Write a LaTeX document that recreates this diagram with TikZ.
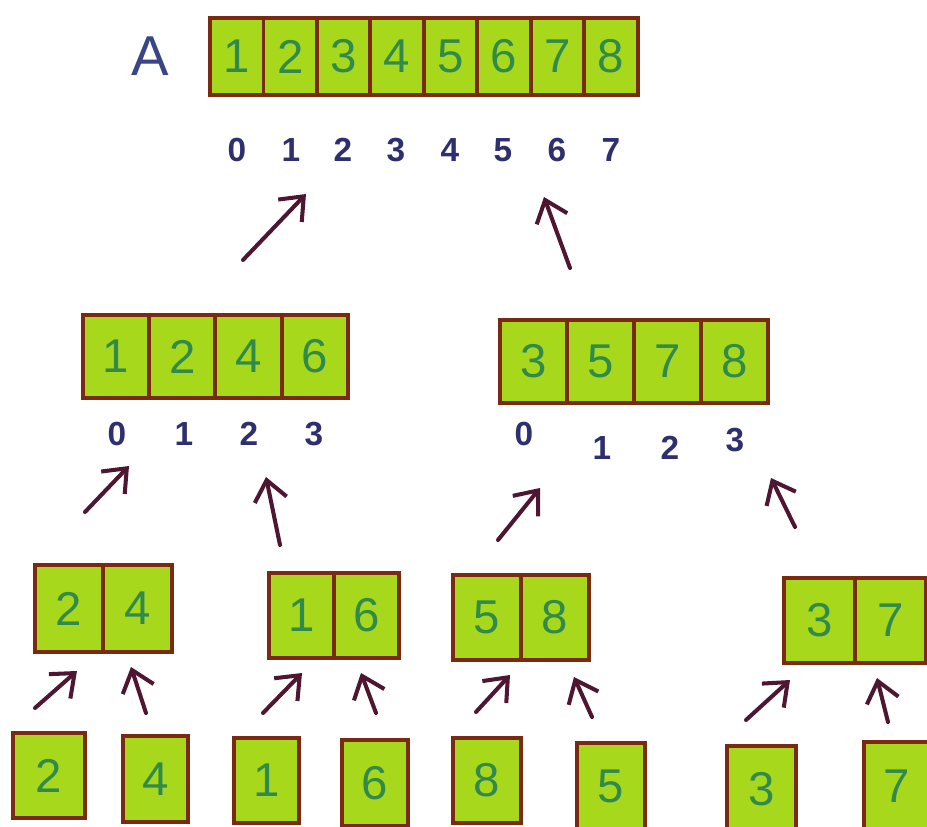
\documentclass[tikz,border=0pt]{standalone}
\usepackage{fontspec}
\setmainfont{Liberation Sans}
\usetikzlibrary{arrows.meta, positioning}
\definecolor{cellfill}{HTML}{A8D81C}
\definecolor{cellline}{HTML}{7B2A12}
\definecolor{digit}{HTML}{2F8A4C}
\definecolor{idxblue}{HTML}{2E2F6E}
\definecolor{labelblue}{HTML}{3A4585}
\definecolor{arrowred}{HTML}{4E1630}

\tikzset{
  cell/.style={draw=cellline, fill=cellfill, line width=2.2pt, text=digit,
    font=\fontsize{27}{30}\selectfont, inner sep=0pt, outer sep=0pt},
  idx/.style={text=idxblue, font=\fontsize{19}{22}\selectfont\bfseries},
  up/.style={-{Straight Barb[length=4mm, width=6.5mm]}, line width=2.3pt, arrowred, line cap=round}
}

\begin{document}
\begin{tikzpicture}[x=0.02cm, y=-0.02cm]
\useasboundingbox (0,0) rectangle (927,827);

% Array A
\node[text=labelblue, font=\fontsize{32}{36}\selectfont] (lblA) at (150,56) {A};
\node[cell, minimum width=1.07cm, minimum height=1.54cm] (a1) at (236.7,56.5) {1};
\node[cell, minimum width=1.07cm, minimum height=1.54cm, right=0pt of a1] (a2) {2};
\node[cell, minimum width=1.07cm, minimum height=1.54cm, right=0pt of a2] (a3) {3};
\node[cell, minimum width=1.07cm, minimum height=1.54cm, right=0pt of a3] (a4) {4};
\node[cell, minimum width=1.07cm, minimum height=1.54cm, right=0pt of a4] (a5) {5};
\node[cell, minimum width=1.07cm, minimum height=1.54cm, right=0pt of a5] (a6) {6};
\node[cell, minimum width=1.07cm, minimum height=1.54cm, right=0pt of a6] (a7) {7};
\node[cell, minimum width=1.07cm, minimum height=1.54cm, right=0pt of a7] (a8) {8};
\node[idx] (ia0) at (237,150) {0};
\node[idx] (ia1) at (291,150) {1};
\node[idx] (ia2) at (343,150) {2};
\node[idx] (ia3) at (396,150) {3};
\node[idx] (ia4) at (450,150) {4};
\node[idx] (ia5) at (503,150) {5};
\node[idx] (ia6) at (557,150) {6};
\node[idx] (ia7) at (611,150) {7};

% Level 2
\node[cell, minimum width=1.325cm, minimum height=1.66cm] (b1) at (116,356.5) {1};
\node[cell, minimum width=1.325cm, minimum height=1.66cm, right=0pt of b1] (b2) {2};
\node[cell, minimum width=1.325cm, minimum height=1.66cm, right=0pt of b2] (b3) {4};
\node[cell, minimum width=1.325cm, minimum height=1.66cm, right=0pt of b3] (b4) {6};
\node[idx] (ib0) at (117,434) {0};
\node[idx] (ib1) at (184,434) {1};
\node[idx] (ib2) at (249,434) {2};
\node[idx] (ib3) at (314,434) {3};

\node[cell, minimum width=1.34cm, minimum height=1.66cm] (c1) at (533.5,361.5) {3};
\node[cell, minimum width=1.34cm, minimum height=1.66cm, right=0pt of c1] (c2) {5};
\node[cell, minimum width=1.34cm, minimum height=1.66cm, right=0pt of c2] (c3) {7};
\node[cell, minimum width=1.34cm, minimum height=1.66cm, right=0pt of c3] (c4) {8};
\node[idx] (ic0) at (524,434) {0};
\node[idx] (ic1) at (602,448) {1};
\node[idx] (ic2) at (670,448) {2};
\node[idx] (ic3) at (735,440) {3};

% Level 3
\node[cell, minimum width=1.37cm, minimum height=1.74cm] (d1) at (69,608.5) {2};
\node[cell, minimum width=1.37cm, minimum height=1.74cm, right=0pt of d1] (d2) {4};
\node[cell, minimum width=1.3cm, minimum height=1.7cm] (e1) at (301.5,615.5) {1};
\node[cell, minimum width=1.3cm, minimum height=1.7cm, right=0pt of e1] (e2) {6};
\node[cell, minimum width=1.36cm, minimum height=1.7cm] (f1) at (487,617.5) {5};
\node[cell, minimum width=1.36cm, minimum height=1.7cm, right=0pt of f1] (f2) {8};
\node[cell, minimum width=1.42cm, minimum height=1.7cm] (g1) at (819.5,620.5) {3};
\node[cell, minimum width=1.42cm, minimum height=1.7cm, right=0pt of g1] (g2) {7};

% Level 4
\node[cell, minimum width=1.44cm, minimum height=1.7cm] (s1) at (49,775.5) {2};
\node[cell, minimum width=1.3cm, minimum height=1.72cm] (s2) at (155.5,779) {4};
\node[cell, minimum width=1.3cm, minimum height=1.7cm] (s3) at (266.5,780.5) {1};
\node[cell, minimum width=1.32cm, minimum height=1.72cm] (s4) at (375,783) {6};
\node[cell, minimum width=1.36cm, minimum height=1.7cm] (s5) at (487,780.5) {8};
\node[cell, minimum width=1.36cm, minimum height=1.74cm] (s6) at (611,786.5) {5};
\node[cell, minimum width=1.38cm, minimum height=1.72cm] (s7) at (761.5,789) {3};
\node[cell, minimum width=1.32cm, minimum height=1.76cm] (s8) at (897,786) {7};

% Arrows
\coordinate (t1) at (243,260);  \coordinate (h1) at (306,194);
\coordinate (t2) at (570,268);  \coordinate (h2) at (544,197);
\coordinate (t3) at (85,512);   \coordinate (h3) at (129,466);
\coordinate (t4) at (280,545);  \coordinate (h4) at (266,477);
\coordinate (t5) at (498,540);  \coordinate (h5) at (540,488);
\coordinate (t6) at (795,527);  \coordinate (h6) at (771,478);
\coordinate (t7) at (35,708);   \coordinate (h7) at (77,671);
\coordinate (t8) at (146,713);  \coordinate (h8) at (131,667);
\coordinate (t9) at (263,713);  \coordinate (h9) at (302,673);
\coordinate (t10) at (376,713); \coordinate (h10) at (361,673);
\coordinate (t11) at (476,712); \coordinate (h11) at (510,675);
\coordinate (t12) at (592,717); \coordinate (h12) at (574,677);
\coordinate (t13) at (746,720); \coordinate (h13) at (790,680);
\coordinate (t14) at (888,722); \coordinate (h14) at (877,678);
\foreach \i in {1,...,14} \draw[up] (t\i) -- (h\i);
\end{tikzpicture}
\end{document}
